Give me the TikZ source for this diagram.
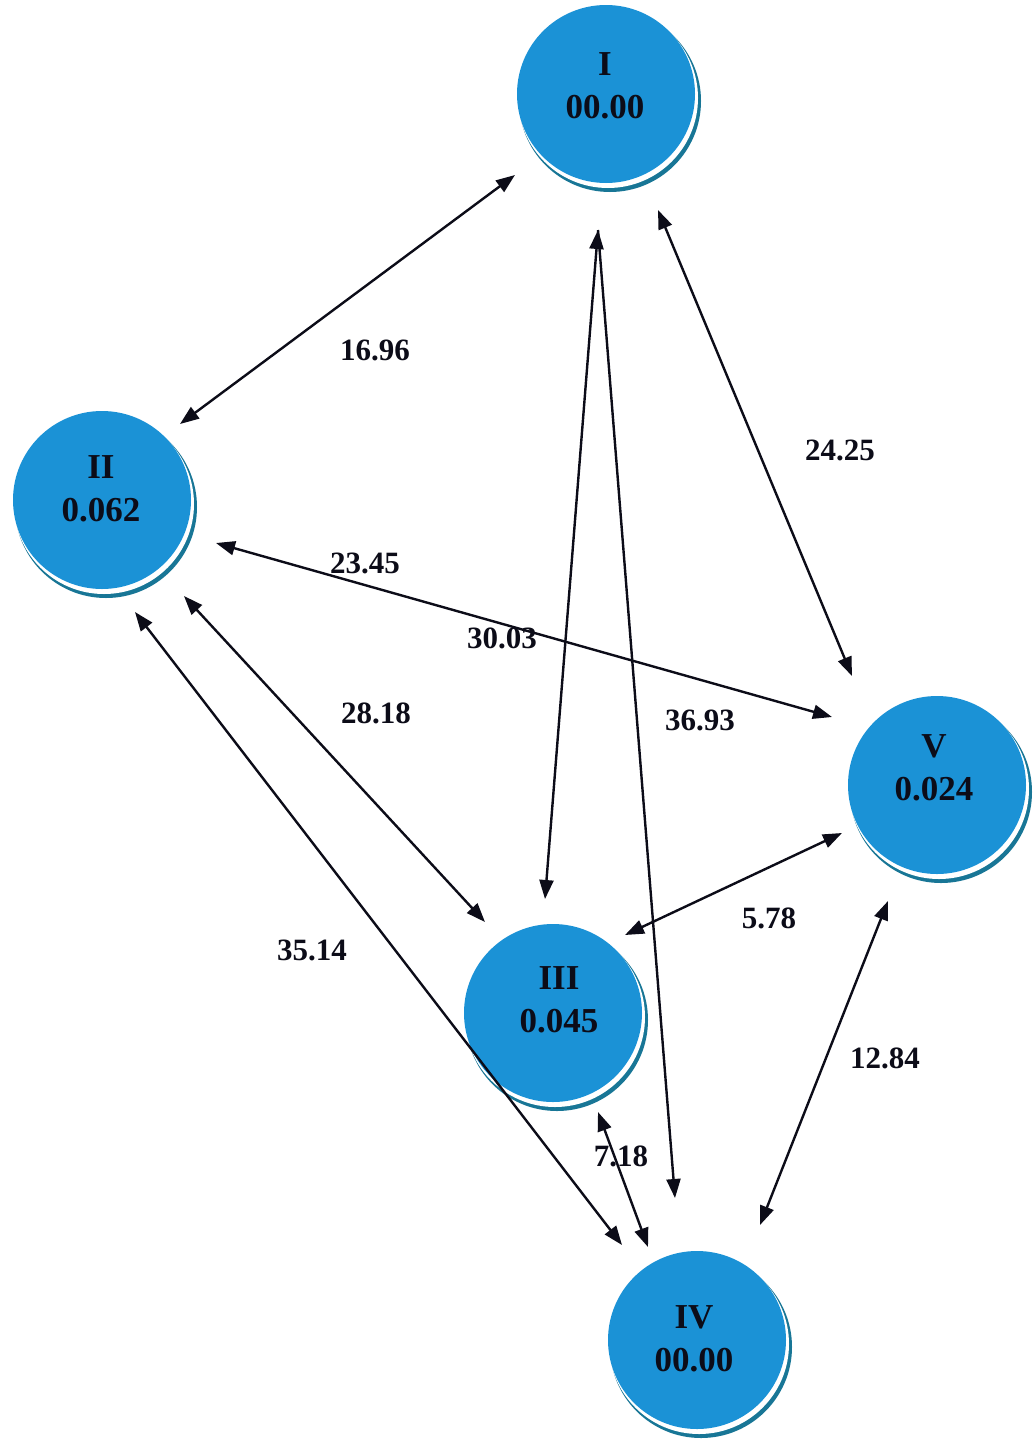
\documentclass[tikz,border=0pt]{standalone}
\usepackage{fontspec}
\setmainfont{Liberation Serif}
\usetikzlibrary{arrows.meta}
\definecolor{nodeblue}{RGB}{27,146,214}
\definecolor{rimteal}{RGB}{24,118,150}
\definecolor{inkdark}{RGB}{12,12,24}
\begin{document}
\begin{tikzpicture}[x=1pt,y=-1pt,
  bubble/.style={circle,fill=nodeblue,minimum size=178pt,inner sep=0pt},
  nodetext/.style={align=center,text=inkdark,font=\fontsize{35}{43}\selectfont\bfseries},
  weight/.style={text=inkdark,font=\fontsize{31}{36}\selectfont\bfseries},
  dbl/.style={line width=2.4pt,draw=inkdark,{Triangle[length=19pt,width=14pt]}-{Triangle[length=19pt,width=14pt]}},
  sgl/.style={line width=2.4pt,draw=inkdark,-{Triangle[length=19pt,width=14pt]}}]
\useasboundingbox[fill=white] (0,0) rectangle (1035,1441);
% bubbles with rim shadow
\foreach \n/\x/\y in {I/606/94,II/102/500,III/553/1013,IV/697/1340,V/937/785}{
  \fill[rimteal] ({\x+4},{\y+7}) circle (91pt);
  \fill[white] ({\x+2},{\y+4}) circle (90pt);
  \node[bubble] (\n) at (\x,\y) {};
}
% connector end points
\coordinate (e1a) at (515,175);  \coordinate (e1b) at (180,424);
\coordinate (e2a) at (598,230);  \coordinate (e2b) at (545,899);
\coordinate (e3a) at (598,230);  \coordinate (e3b) at (675,1198);
\coordinate (e4a) at (658,210);  \coordinate (e4b) at (852,676);
\coordinate (e5a) at (216,543);  \coordinate (e5b) at (832,717);
\coordinate (e6a) at (184,596);  \coordinate (e6b) at (485,922);
\coordinate (e7a) at (135,612);  \coordinate (e7b) at (622,1245);
\coordinate (e8a) at (625,935);  \coordinate (e8b) at (842,833);
\coordinate (e9a) at (888,901);  \coordinate (e9b) at (760,1225);
\coordinate (e10a) at (598,1112); \coordinate (e10b) at (648,1247);
\draw[dbl] (e1a) -- (e1b);
\draw[dbl] (e2a) -- (e2b);
\draw[sgl] (e3a) -- (e3b);
\draw[dbl] (e4a) -- (e4b);
\draw[dbl] (e5a) -- (e5b);
\draw[dbl] (e6a) -- (e6b);
\draw[dbl] (e7a) -- (e7b);
\draw[dbl] (e8a) -- (e8b);
\draw[dbl] (e9a) -- (e9b);
\draw[dbl] (e10a) -- (e10b);
% node texts
\node[nodetext] (Ilab) at (605,86) {I\\00.00};
\node[nodetext] (IIlab) at (101,489) {II\\0.062};
\node[nodetext] (IIIlab) at (559,1000) {III\\0.045};
\node[nodetext] (IVlab) at (694,1339) {IV\\00.00};
\node[nodetext] (Vlab) at (934,768) {V\\0.024};
% weights
\node[weight] (w1) at (375,350) {16.96};
\node[weight] (w2) at (840,450) {24.25};
\node[weight] (w3) at (365,563) {23.45};
\node[weight] (w4) at (502,638) {30.03};
\node[weight] (w5) at (376,713) {28.18};
\node[weight] (w6) at (700,720) {36.93};
\node[weight] (w7) at (769,918) {5.78};
\node[weight] (w8) at (312,950) {35.14};
\node[weight] (w9) at (885,1058) {12.84};
\node[weight] (w10) at (621,1156) {7.18};
\end{tikzpicture}
\end{document}
